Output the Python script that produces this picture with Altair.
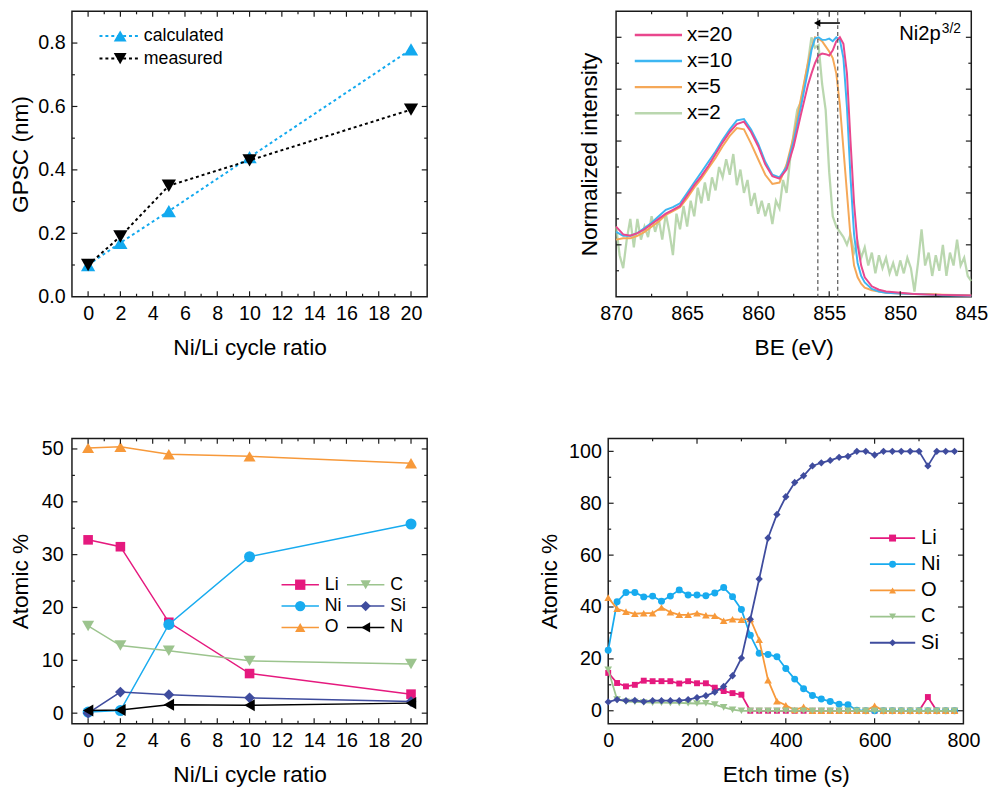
import altair as alt
import numpy as np
import pandas as pd

FONT = "Liberation Sans"
W, H = 361, 290

# ---------------- Panel (a): GPSC vs Ni/Li cycle ratio ----------------
ratio = [0, 2, 5, 10, 20]
gpsc_calculated = [0.10, 0.17, 0.27, 0.44, 0.78]
gpsc_measured = [0.10, 0.19, 0.35, 0.43, 0.59]

# ---------------- Panel (b): Ni2p3/2 XPS spectra ----------------
be_smooth = [870.0, 869.5, 869.0, 868.5, 868.0, 867.5, 867.0, 866.5, 866.0, 865.5,
             865.0, 864.5, 864.0, 863.5, 863.0, 862.5, 862.0, 861.5, 861.0, 860.5,
             860.0, 859.5, 859.0, 858.5, 858.0, 857.5, 857.0, 856.5, 856.25, 856.0,
             855.75, 855.5, 855.25, 855.0, 854.75, 854.5, 854.25, 854.0, 853.75, 853.5,
             853.25, 853.0, 852.75, 852.5, 852.0, 851.5, 851.0, 850.0, 849.0, 848.0,
             847.0, 846.0, 845.0]
int_x20 = [0.27, 0.24, 0.235, 0.245, 0.26, 0.28, 0.30, 0.32, 0.335, 0.35,
           0.39, 0.43, 0.465, 0.505, 0.55, 0.595, 0.635, 0.665, 0.675, 0.635,
           0.58, 0.51, 0.465, 0.455, 0.49, 0.58, 0.70, 0.815, 0.86, 0.90,
           0.93, 0.937, 0.935, 0.93, 0.95, 0.985, 1.0, 0.975, 0.86, 0.60,
           0.36, 0.20, 0.12, 0.075, 0.04, 0.027, 0.02, 0.015, 0.01, 0.008,
           0.007, 0.006, 0.005]
int_x10 = [0.25, 0.235, 0.235, 0.245, 0.265, 0.285, 0.31, 0.335, 0.345, 0.36,
           0.40, 0.44, 0.48, 0.52, 0.56, 0.605, 0.645, 0.68, 0.685, 0.645,
           0.59, 0.52, 0.47, 0.46, 0.50, 0.60, 0.73, 0.87, 0.95, 0.995,
           1.0, 0.99, 0.99, 0.995, 0.985, 1.0, 0.99, 0.92, 0.73, 0.46,
           0.24, 0.13, 0.08, 0.055, 0.03, 0.02, 0.015, 0.012, 0.01, 0.008,
           0.006, 0.005, 0.004]
int_x5 = [0.22, 0.225, 0.225, 0.235, 0.25, 0.27, 0.29, 0.315, 0.33, 0.345,
          0.38, 0.42, 0.455, 0.495, 0.535, 0.58, 0.62, 0.65, 0.645, 0.59,
          0.53, 0.47, 0.435, 0.44, 0.51, 0.62, 0.76, 0.90, 0.96, 1.0,
          0.995, 0.985, 0.965, 0.945, 0.92, 0.86, 0.74, 0.57, 0.40, 0.23,
          0.12, 0.075, 0.05, 0.035, 0.025, 0.02, 0.015, 0.012, 0.01, 0.01,
          0.008, 0.007, 0.005]
be_noisy = [round(870 - 0.25 * i, 2) for i in range(101)]
int_x2 = [0.27, 0.16, 0.11, 0.22, 0.30, 0.19, 0.30, 0.22, 0.27, 0.23,
          0.31, 0.25, 0.30, 0.22, 0.32, 0.25, 0.16, 0.32, 0.26, 0.35,
          0.27, 0.37, 0.31, 0.42, 0.36, 0.44, 0.37, 0.46, 0.41, 0.50,
          0.46, 0.53, 0.47, 0.55, 0.43, 0.49, 0.40, 0.45, 0.35, 0.40,
          0.32, 0.37, 0.31, 0.36, 0.28, 0.37, 0.34, 0.45, 0.40, 0.53,
          0.63, 0.72, 0.75, 0.82, 0.90, 1.00, 0.96, 0.97, 0.82, 0.72,
          0.48, 0.31, 0.27, 0.25, 0.23, 0.20, 0.24, 0.17, 0.21, 0.15,
          0.19, 0.12, 0.17, 0.09, 0.16, 0.11, 0.15, 0.09, 0.13, 0.08,
          0.14, 0.09, 0.15, 0.11, 0.02, 0.13, 0.26, 0.12, 0.17, 0.08,
          0.16, 0.10, 0.20, 0.08, 0.17, 0.12, 0.22, 0.12, 0.15, 0.08,
          0.06]
shift_lines = [855.8, 854.4]
arrow_from, arrow_to, arrow_level = 854.25, 855.85, 1.055

# ---------------- Panel (c): composition vs Ni/Li cycle ratio ----------------
comp_Li = [32.8, 31.5, 17.2, 7.5, 3.6]
comp_Ni = [0.2, 0.5, 16.8, 29.6, 35.8]
comp_O = [50.2, 50.4, 49.0, 48.6, 47.3]
comp_C = [16.5, 12.8, 11.8, 9.9, 9.3]
comp_Si = [0.0, 4.0, 3.5, 2.9, 2.2]
comp_N = [0.5, 0.6, 1.6, 1.5, 1.9]

# ---------------- Panel (d): depth profile ----------------
etch_time = list(range(0, 800, 20))
depth_Li = [14.6, 10.7, 9.4, 10.0, 11.6, 11.4, 11.4, 11.4, 10.5, 11.4,
            10.6, 10.6, 8.9, 7.6, 6.8, 6.2, 0, 0, 0, 0,
            0, 0, 0, 0, 0, 0, 0, 0, 0, 0,
            0, 0, 0, 0, 0, 0, 5.3, 0, 0, 0]
depth_Ni = [23.3, 42.0, 45.6, 45.6, 43.9, 44.2, 42.2, 44.2, 46.6, 44.6,
            44.6, 44.3, 45.4, 47.5, 44.0, 39.0, 29.1, 22.2, 21.7, 20.8,
            16.3, 12.2, 8.5, 5.9, 4.5, 3.6, 2.5, 2.3, 0.2, 0,
            0, 0, 0, 0, 0, 0, 0, 0, 0, 0]
depth_O = [43.6, 39.3, 38.2, 37.4, 37.6, 37.6, 39.8, 38.0, 37.0, 37.0,
           37.6, 36.8, 36.6, 34.7, 35.3, 35.1, 35.4, 27.4, 11.8, 3.7,
           2.1, 0.3, 1.5, 0, 0, 0, 0, 0, 0, 0,
           1.9, 0, 0, 0, 0, 0, 0, 0, 0, 0]
depth_C = [15.8, 4.3, 3.5, 3.4, 3.2, 3.1, 3.1, 3.0, 3.0, 2.9,
           2.8, 2.9, 2.4, 1.3, 0.4, 0, 0, 0, 0, 0,
           0, 0, 0, 0, 0, 0, 0, 0, 0, 0,
           0, 0, 0, 0, 0, 0, 0, 0, 0, 0]
depth_Si = [3.4, 4.3, 3.9, 4.0, 3.5, 3.9, 3.9, 3.9, 3.9, 4.3,
            5.1, 5.8, 7.2, 9.4, 13.5, 20.3, 35.3, 50.8, 66.6, 75.7,
            82.5, 88.0, 90.6, 94.4, 95.6, 96.5, 97.7, 98.1, 100, 100,
            98.6, 100, 100, 100, 100, 100, 94.4, 100, 100, 100]

# ---------------- styling ----------------
C_LI, C_NI, C_O, C_C, C_SI, C_N = "#E5197E", "#18ABEF", "#F7993A", "#9CC48E", "#3F4C9E", "#000000"
C_CALC = "#12A9EF"
C_X20, C_X10, C_X5, C_X2 = "#E9478D", "#3DB6F2", "#F5A858", "#A3C994"

one = pd.DataFrame({"k": [0]})


def tick_layers(xs, ys, xa, ya, xmaj, xmin, ymaj, ymin, L=5.5, l=3.0):
    out = []
    for vals, ln in ((xmaj, L), (xmin, l)):
        if not vals:
            continue
        d = pd.DataFrame({"x": vals})
        b = alt.Chart(d).mark_rule(color="#1a1a1a", strokeWidth=1.2)
        out.append(b.encode(x=alt.X("x:Q", scale=xs, axis=xa), y=alt.value(H), y2=alt.value(H - ln)))
        out.append(b.encode(x=alt.X("x:Q", scale=xs, axis=xa), y=alt.value(0), y2=alt.value(ln)))
    for vals, ln in ((ymaj, L), (ymin, l)):
        if not vals:
            continue
        d = pd.DataFrame({"y": vals})
        b = alt.Chart(d).mark_rule(color="#1a1a1a", strokeWidth=1.2)
        out.append(b.encode(y=alt.Y("y:Q", scale=ys, axis=ya), x=alt.value(0), x2=alt.value(ln)))
        out.append(b.encode(y=alt.Y("y:Q", scale=ys, axis=ya), x=alt.value(W), x2=alt.value(W - ln)))
    return out


def series(x, y, xs, ys, xa, ya, color, width, shape=None, size=None, dash=None, opacity=1.0):
    df = pd.DataFrame({"x": x, "y": y})
    kw = dict(color=color, strokeWidth=width, opacity=opacity)
    if dash:
        kw["strokeDash"] = dash
    enc = dict(x=alt.X("x:Q", scale=xs, axis=xa), y=alt.Y("y:Q", scale=ys, axis=ya))
    out = [alt.Chart(df).mark_line(**kw).encode(**enc)]
    if shape:
        out.append(alt.Chart(df).mark_point(shape=shape, filled=True, size=size, color=color,
                                            opacity=1).encode(**enc))
    return out


def leg_line(x1, x2, y, color, width, dash=None, opacity=1.0):
    kw = dict(color=color, strokeWidth=width, opacity=opacity)
    if dash:
        kw["strokeDash"] = dash
    return alt.Chart(one).mark_rule(**kw).encode(x=alt.value(x1), x2=alt.value(x2), y=alt.value(y))


def leg_point(x, y, shape, color, size):
    return alt.Chart(one).mark_point(shape=shape, filled=True, color=color, size=size, opacity=1).encode(
        x=alt.value(x), y=alt.value(y))


def leg_text(x, y, text, size, align="left", baseline="middle"):
    return alt.Chart(one).mark_text(text=text, align=align, baseline=baseline, font=FONT, fontSize=size,
                                    color="black").encode(x=alt.value(x), y=alt.value(y))


def xaxis(values, title, fmt=None):
    kw = dict(values=values, title=title, labelPadding=7, titlePadding=14, labelFlush=False, labelOverlap=False)
    if fmt:
        kw["format"] = fmt
    return alt.Axis(**kw)


# ---------------- Panel (a) ----------------
xs_a = alt.Scale(domain=[-1, 21], nice=False, zero=False)
ys_a = alt.Scale(domain=[0, 0.9], nice=False, zero=False)
ax_a_x = xaxis(list(range(0, 21, 2)), "Ni/Li cycle ratio")
ax_a_y = alt.Axis(values=[0.0, 0.2, 0.4, 0.6, 0.8], format=".1f", title="GPSC (nm)", labelPadding=7,
                  minExtent=34, maxExtent=34, titlePadding=6, labelOverlap=False)
layers_a = []
layers_a += series(ratio, gpsc_calculated, xs_a, ys_a, ax_a_x, ax_a_y, C_CALC, 2, "triangle-up", 210, dash=[3, 3])
layers_a += series(ratio, gpsc_measured, xs_a, ys_a, ax_a_x, ax_a_y, "black", 2, "triangle-down", 210, dash=[3, 3])
layers_a += tick_layers(xs_a, ys_a, ax_a_x, ax_a_y, list(range(0, 21, 2)), list(range(1, 21, 2)),
                        [0.2, 0.4, 0.6, 0.8], [0.1, 0.3, 0.5, 0.7])
for i, (lab, col, shp) in enumerate([("calculated", C_CALC, "triangle-up"), ("measured", "black", "triangle-down")]):
    yy = 25 + i * 23
    layers_a += [leg_line(28, 70, yy, col, 2, dash=[3, 3]), leg_point(49, yy, shp, col, 170),
                 leg_text(73, yy, lab, 18)]
panel_a = alt.layer(*layers_a).properties(width=W, height=H)

# ---------------- Panel (b) ----------------
xs_b = alt.Scale(domain=[870, 845], nice=False, zero=False)
ys_b = alt.Scale(domain=[0, 1.1], nice=False, zero=False)
ax_b_x = xaxis([870, 865, 860, 855, 850, 845], "BE (eV)")
ax_b_y = alt.Axis(labels=False, values=[0.0], title="Normalized intensity", titlePadding=15,
                  minExtent=0, maxExtent=0)
layers_b = []
layers_b += series(be_noisy, int_x2, xs_b, ys_b, ax_b_x, ax_b_y, C_X2, 2.3, opacity=0.75)
layers_b += series(be_smooth, int_x5, xs_b, ys_b, ax_b_x, ax_b_y, C_X5, 2)
layers_b += series(be_smooth, int_x10, xs_b, ys_b, ax_b_x, ax_b_y, C_X10, 2)
layers_b += series(be_smooth, int_x20, xs_b, ys_b, ax_b_x, ax_b_y, C_X20, 2)
layers_b.append(alt.Chart(pd.DataFrame({"x": shift_lines})).mark_rule(
    color="#555555", strokeWidth=1.2, strokeDash=[4, 3]).encode(x=alt.X("x:Q", scale=xs_b, axis=ax_b_x)))
arrow_df = pd.DataFrame({"x": [arrow_from], "x2": [arrow_to], "y": [arrow_level]})
layers_b.append(alt.Chart(arrow_df).mark_rule(color="black", strokeWidth=1.6).encode(
    x=alt.X("x:Q", scale=xs_b, axis=ax_b_x), x2="x2:Q", y=alt.Y("y:Q", scale=ys_b, axis=ax_b_y)))
layers_b.append(alt.Chart(arrow_df).mark_point(shape="triangle-left", filled=True, color="black", size=55,
                                               opacity=1).encode(
    x=alt.X("x2:Q", scale=xs_b, axis=ax_b_x), y=alt.Y("y:Q", scale=ys_b, axis=ax_b_y)))
layers_b += tick_layers(xs_b, ys_b, ax_b_x, ax_b_y, [865, 860, 855, 850], [867.5, 862.5, 857.5, 852.5, 847.5],
                        [0.2, 0.4, 0.6, 0.8, 1.0], [0.1, 0.3, 0.5, 0.7, 0.9])
for i, (lab, col, op) in enumerate([("x=20", C_X20, 1), ("x=10", C_X10, 1), ("x=5", C_X5, 1), ("x=2", C_X2, 0.75)]):
    yy = 24 + i * 26.5
    layers_b += [leg_line(19, 67, yy, col, 2.5, opacity=op), leg_text(72, yy, lab, 21)]
layers_b += [leg_text(330, 29.5, "Ni2p", 20.5, align="right", baseline="alphabetic"),
             leg_text(331, 22, "3/2", 14, align="left", baseline="alphabetic")]
panel_b = alt.layer(*layers_b).properties(width=W, height=H)

# ---------------- Panel (c) ----------------
ys_c = alt.Scale(domain=[-2, 52], nice=False, zero=False)
ax_c_x = xaxis(list(range(0, 21, 2)), "Ni/Li cycle ratio")
ax_c_y = alt.Axis(values=[0, 10, 20, 30, 40, 50], title="Atomic %", labelPadding=9,
                  minExtent=34, maxExtent=34, titlePadding=6, labelOverlap=False)
comp = [("Li", comp_Li, C_LI, "square", 95), ("Ni", comp_Ni, C_NI, "circle", 125),
        ("O", comp_O, C_O, "triangle-up", 150), ("C", comp_C, C_C, "triangle-down", 150),
        ("Si", comp_Si, C_SI, "diamond", 120), ("N", comp_N, C_N, "triangle-left", 150)]
layers_c = []
for lab, vals, col, shp, sz in comp:
    layers_c += series(ratio, vals, xs_a, ys_c, ax_c_x, ax_c_y, col, 1.5, shp, sz)
layers_c += tick_layers(xs_a, ys_c, ax_c_x, ax_c_y, list(range(0, 21, 2)), list(range(1, 21, 2)),
                        [0, 10, 20, 30, 40, 50], [5, 15, 25, 35, 45])
legend_c = [("Li", C_LI, "square", 0, 0), ("Ni", C_NI, "circle", 0, 1), ("O", C_O, "triangle-up", 0, 2),
            ("C", C_C, "triangle-down", 1, 0), ("Si", C_SI, "diamond", 1, 1), ("N", C_N, "triangle-left", 1, 2)]
for lab, col, shp, cidx, ridx in legend_c:
    x0 = 213 + cidx * 66.5
    yy = 148.7 + ridx * 21.7
    layers_c += [leg_line(x0, x0 + 38, yy, col, 1.5), leg_point(x0 + 19, yy, shp, col, 110),
                 leg_text(x0 + 44, yy, lab, 18)]
panel_c = alt.layer(*layers_c).properties(width=W, height=H)

# ---------------- Panel (d) ----------------
xs_d = alt.Scale(domain=[0, 800], nice=False, zero=False)
ys_d = alt.Scale(domain=[-5, 105], nice=False, zero=False)
ax_d_x = xaxis([0, 200, 400, 600, 800], "Etch time (s)")
ax_d_y = alt.Axis(values=[0, 20, 40, 60, 80, 100], title="Atomic %", labelPadding=7,
                  minExtent=40, maxExtent=40, titlePadding=8, labelOverlap=False)
depth = [("Li", depth_Li, C_LI, "square", 36), ("Ni", depth_Ni, C_NI, "circle", 50),
         ("O", depth_O, C_O, "triangle-up", 60), ("C", depth_C, C_C, "triangle-down", 60),
         ("Si", depth_Si, C_SI, "diamond", 55)]
layers_d = []
for lab, vals, col, shp, sz in depth:
    layers_d += series(etch_time, vals, xs_d, ys_d, ax_d_x, ax_d_y, col, 1.8, shp, sz)
layers_d += tick_layers(xs_d, ys_d, ax_d_x, ax_d_y, [200, 400, 600], [100, 300, 500, 700],
                        [0, 20, 40, 60, 80, 100], [10, 30, 50, 70, 90])
for i, (lab, vals, col, shp, sz) in enumerate(depth):
    yy = 101.3 + i * 26.6
    layers_d += [leg_line(266, 312, yy, col, 1.8), leg_point(289, yy, shp, col, 50),
                 leg_text(318, yy, lab, 20.5)]
panel_d = alt.layer(*layers_d).properties(width=W, height=H)

# ---------------- layout ----------------
row1 = alt.hconcat(panel_a, panel_b, spacing=192, bounds="flush")
row2 = alt.hconcat(panel_c, panel_d, spacing=184, bounds="flush")
chart = alt.vconcat(row1, row2, spacing=77).properties(
    padding={"left": 1, "top": -5, "right": 0, "bottom": 0}
).configure_axis(
    domain=False, ticks=False, tickSize=0, grid=False,
    labelFont=FONT, titleFont=FONT, labelFontSize=20, titleFontSize=23, titleFontWeight="normal",
    labelColor="black", titleColor="black",
).configure_view(stroke="#1a1a1a", strokeWidth=1.5)

chart.save("out.html", embed_options={"renderer": "svg", "actions": False})
